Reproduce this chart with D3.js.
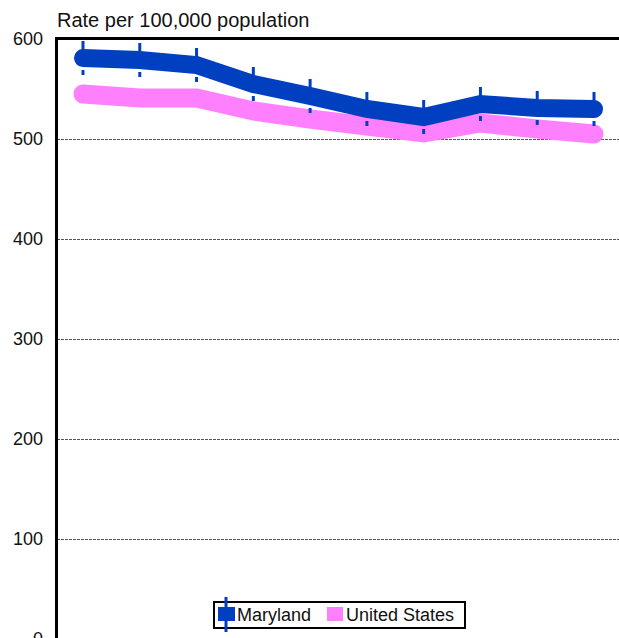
<!DOCTYPE html>
<html>
<head>
<meta charset="utf-8">
<script src="https://cdn.jsdelivr.net/npm/d3@7"></script>
<style>
  body { margin: 0; background: #fff; }
  svg { display: block; font-family: "Liberation Sans", Arial, sans-serif; }
</style>
</head>
<body>
<svg></svg>
<script>
// данные графика
let years = [1999, 2000, 2001, 2002, 2003, 2004, 2005, 2006, 2007, 2008];
let maryland = [581, 579, 574, 555, 543, 530, 522, 535, 531, 530];
let mdLower = [564, 562, 557, 538, 526, 513, 505, 518, 514, 513];
let mdUpper = [598, 596, 591, 572, 560, 547, 539, 552, 548, 547];
let unitedStates = [545, 541, 541, 528, 520, 513, 506, 516, 510, 505];
let yTicks = [0, 100, 200, 300, 400, 500, 600];

let width = 619;
let height = 638;

let svg = d3.select("svg")
    .attr("width", width)
    .attr("height", height);

let marginLeft = 57;
let marginTop = 39;

let scaleX = d3.scalePoint()
    .domain(years)
    .range([83, 594]);

let scaleY = d3.scaleLinear()
    .domain([0, 600])
    .range([639, marginTop]);

// сетка
svg.append("g")
    .selectAll("line")
    .data(yTicks.filter(d => d > 0 && d < 600))
    .join("line")
    .attr("x1", marginLeft)
    .attr("x2", width)
    .attr("y1", d => scaleY(d) + 0.5)
    .attr("y2", d => scaleY(d) + 0.5)
    .style("stroke", "#555")
    .style("stroke-width", 1)
    .style("stroke-dasharray", "3,1");

// подписи оси Y
let axisY = d3.axisLeft(scaleY).tickValues(yTicks).tickSize(0).tickPadding(14);
let gY = svg.append("g")
    .attr("transform", `translate(${marginLeft}, 0)`)
    .call(axisY);
gY.select(".domain").remove();
gY.selectAll("text")
    .style("font-size", "18px")
    .style("fill", "#111")
    .style("font-family", "'Liberation Sans', Arial, sans-serif");

// рамка: верх и лево
svg.append("line")
    .attr("x1", marginLeft - 1.5).attr("x2", width)
    .attr("y1", marginTop - 0.5).attr("y2", marginTop - 0.5)
    .style("stroke", "#000").style("stroke-width", 3);
svg.append("line")
    .attr("x1", marginLeft - 0.5).attr("x2", marginLeft - 0.5)
    .attr("y1", marginTop - 2).attr("y2", height)
    .style("stroke", "#000").style("stroke-width", 3);

// заголовок оси
svg.append("text")
    .attr("x", marginLeft)
    .attr("y", 27)
    .text("Rate per 100,000 population")
    .style("font-size", "20px")
    .style("fill", "#111");

let line = d3.line()
    .x((d, i) => scaleX(years[i]))
    .y(d => scaleY(d));

svg.append("path")
    .datum(unitedStates)
    .attr("d", line)
    .style("fill", "none")
    .style("stroke", "#ff80ff")
    .style("stroke-width", 19)
    .style("stroke-linecap", "round");

// верхние усы доверительного интервала
svg.append("g")
    .selectAll("line")
    .data(years)
    .join("line")
    .attr("x1", d => scaleX(d))
    .attr("x2", d => scaleX(d))
    .attr("y1", (d, i) => scaleY(mdUpper[i]))
    .attr("y2", (d, i) => scaleY(maryland[i]))
    .style("stroke", "#0040c0")
    .style("stroke-width", 3);

svg.append("path")
    .datum(maryland)
    .attr("d", line)
    .style("fill", "none")
    .style("stroke", "#0040c0")
    .style("stroke-width", 18)
    .style("stroke-linecap", "round");

// нижние концы усов
svg.append("g")
    .selectAll("line")
    .data(years)
    .join("line")
    .attr("x1", d => scaleX(d))
    .attr("x2", d => scaleX(d))
    .attr("y1", (d, i) => scaleY(mdLower[i]))
    .attr("y2", (d, i) => scaleY(mdLower[i]) - 5)
    .style("stroke", "#0040c0")
    .style("stroke-width", 3);

// легенда
let legend = svg.append("g");
legend.append("rect")
    .attr("x", 214).attr("y", 602)
    .attr("width", 251).attr("height", 26)
    .style("fill", "#fff")
    .style("stroke", "#000")
    .style("stroke-width", 2);
legend.append("line")
    .attr("x1", 226).attr("x2", 226)
    .attr("y1", 597).attr("y2", 632)
    .style("stroke", "#0040c0").style("stroke-width", 3);
legend.append("rect")
    .attr("x", 218).attr("y", 607)
    .attr("width", 17).attr("height", 14)
    .style("fill", "#0040c0");
legend.append("text")
    .attr("x", 237).attr("y", 621)
    .text("Maryland")
    .style("font-size", "18px").style("fill", "#111");
legend.append("rect")
    .attr("x", 327).attr("y", 607)
    .attr("width", 16).attr("height", 14)
    .style("fill", "#ff80ff");
legend.append("text")
    .attr("x", 346).attr("y", 621)
    .text("United States")
    .style("font-size", "18px").style("fill", "#111");
</script>
</body>
</html>
